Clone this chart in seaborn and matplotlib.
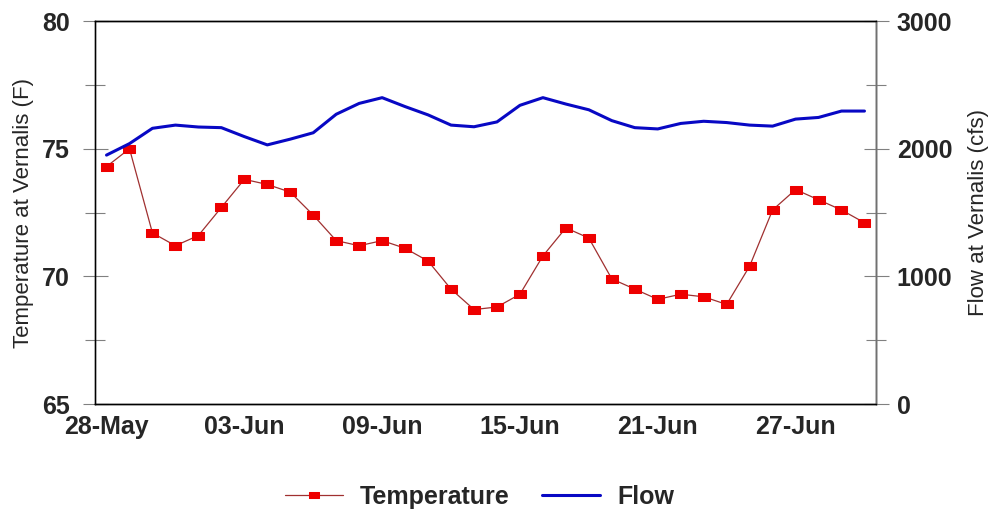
import pandas as pd
import numpy as np
import matplotlib.pyplot as plt
import seaborn as sns

sns.set_style('white')
plt.rcParams['font.family'] = ['Liberation Sans', 'DejaVu Sans']

# daily values, 28-May .. 30-Jun
dates = pd.date_range('2009-05-28', '2009-06-30', freq='D')

temperature = [74.3, 75.0, 71.7, 71.2, 71.6, 72.7, 73.8, 73.6, 73.3, 72.4,
               71.4, 71.2, 71.4, 71.1, 70.6, 69.5, 68.7, 68.8, 69.3, 70.8,
               71.9, 71.5, 69.9, 69.5, 69.1, 69.3, 69.2, 68.9, 70.4, 72.6,
               73.4, 73.0, 72.6, 72.1]

flow = [1950, 2040, 2160, 2185, 2170, 2165, 2095, 2030, 2075, 2125,
        2270, 2355, 2400, 2330, 2265, 2185, 2172, 2210, 2340, 2400,
        2350, 2305, 2220, 2165, 2155, 2198, 2215, 2205, 2185, 2177,
        2232, 2245, 2295, 2295]

df = pd.DataFrame({'date': dates, 'Temperature': temperature, 'Flow': flow})

fig = plt.figure(figsize=(9.91, 5.14), dpi=100)
ax = fig.add_axes([0.0959, 0.214, 0.788, 0.745])
ax2 = ax.twinx()

# wide flat box marker like the Excel one
rect = [(-1.3, -0.8), (1.3, -0.8), (1.3, 0.8), (-1.3, 0.8), (-1.3, -0.8)]

sns.lineplot(data=df, x='date', y='Temperature', ax=ax, color='#A03030',
             linewidth=0.9, marker=rect, markersize=9, markerfacecolor='#EE0000',
             markeredgecolor='#EE0000', label='Temperature', legend=False)
sns.lineplot(data=df, x='date', y='Flow', ax=ax2, color='#0808C4',
             linewidth=2.2, label='Flow', legend=False)

half_day = pd.Timedelta(hours=12)
ax.set_xlim(dates[0] - half_day, dates[-1] + half_day)

ax.set_ylim(65, 80)
ax.set_yticks([65, 70, 75, 80])
ax.set_yticks([67.5, 72.5, 77.5], minor=True)
ax2.set_ylim(0, 3000)
ax2.set_yticks([0, 1000, 2000, 3000])
ax2.set_yticks([500, 1500, 2500], minor=True)

tick_dates = dates[::6]
ax.set_xticks(tick_dates)
ax.set_xticklabels([d.strftime('%d-%b') for d in tick_dates])

for a in (ax, ax2):
    a.tick_params(axis='y', which='major', direction='inout', length=18,
                  width=0.8, color='#808080', labelsize=18, pad=6)
    a.tick_params(axis='y', which='minor', direction='inout', length=14,
                  width=0.8, color='#808080')
    for lab in a.get_yticklabels():
        lab.set_fontweight('bold')
ax.tick_params(axis='y', pad=9)
ax.tick_params(axis='x', length=0, labelsize=18, pad=8)
for lab in ax.get_xticklabels():
    lab.set_fontweight('bold')

ax.set_xlabel('')
ax.set_ylabel('Temperature at Vernalis (F)', fontsize=16, labelpad=6)
ax2.set_ylabel('Flow at Vernalis (cfs)', fontsize=16, labelpad=11)

for a in (ax, ax2):
    for s in a.spines.values():
        s.set_linewidth(1.0)
        s.set_color('black')
ax.spines['left'].set_color('#404040')
ax2.spines['right'].set_color('#707070')

handles = ax.get_lines()[:1] + ax2.get_lines()[:1]
fig.legend(handles, ['Temperature', 'Flow'], loc='center', bbox_to_anchor=(0.484, 0.033),
           ncol=2, frameon=False, prop={'size': 18, 'weight': 'bold'},
           handlelength=2.3, handletextpad=0.7, columnspacing=1.3, markerscale=0.8)

plt.savefig('out.png', dpi=100)
plt.close()
